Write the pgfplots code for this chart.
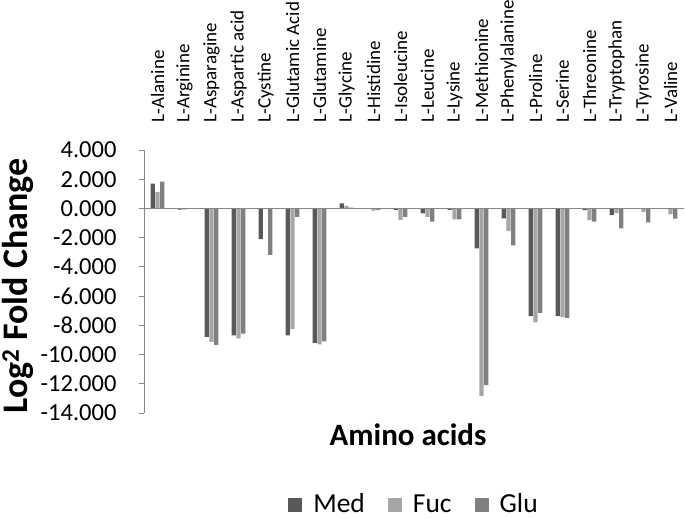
\documentclass[border=0pt]{standalone}
\usepackage{fontspec}
\setmainfont{Carlito}
\usepackage{pgfplots}
\pgfplotsset{compat=1.18}
\definecolor{cmed}{HTML}{595959}
\definecolor{cfuc}{HTML}{A6A6A6}
\definecolor{cglu}{HTML}{808080}
\definecolor{axgray}{HTML}{868686}
\begin{document}
\begin{tikzpicture}
\path[use as bounding box] (0,0) rectangle (685bp,519bp);
\begin{axis}[
  at={(144bp,106bp)}, anchor=south west,
  scale only axis, width=540bp, height=263bp,
  xmin=-0.5, xmax=19.5, ymin=-14, ymax=4,
  axis y line*=left, axis x line*=top,
  x axis line style={draw=none},
  y axis line style={draw=axgray, line width=0.9bp},
  xtick={0,...,19},
  xticklabels={L-Alanine,L-Arginine,L-Asparagine,L-Aspartic acid,L-Cystine,L-Glutamic Acid,L-Glutamine,L-Glycine,L-Histidine,L-Isoleucine,L-Leucine,L-Lysine,L-Methionine,L-Phenylalanine,L-Proline,L-Serine,L-Threonine,L-Tryptophan,L-Tyrosine,L-Valine},
  xticklabel style={rotate=90, anchor=west, font=\fontsize{19bp}{21bp}\selectfont},
  xticklabel shift=19bp,
  x tick style={draw=none},
  ytick={-14,-12,...,4},
  y tick style={draw=axgray, line width=0.9bp},
  tick align=outside, major tick length=5bp,
  yticklabel style={font=\fontsize{24.5bp}{26bp}\selectfont, /pgf/number format/.cd, fixed, fixed zerofill, precision=3, assume math mode=true},
  yticklabel shift=19bp,
  ybar=0.4bp, bar width=4.3bp,
  legend columns=3,
  legend style={draw=none, at={(axis description cs:0.5,-0.355)}, anchor=center, font=\fontsize{27.5bp}{29bp}\selectfont,
    nodes={text height=0.72em, text depth=0.05em},
    /tikz/every odd column/.append style={column sep=9bp},
    /tikz/every even column/.append style={column sep=21bp}},
  legend image code/.code={\fill[#1] (0bp,-3.5bp) rectangle (14bp,10.5bp);},
  clip=false,
]
\addplot[fill=cmed, draw=none] coordinates {
(0,1.69) (1,-0.08) (2,-8.79) (3,-8.68) (4,-2.10) (5,-8.68) (6,-9.20) (7,0.34) (8,-0.01) (9,-0.10)
(10,-0.34) (11,-0.10) (12,-2.74) (13,-0.68) (14,-7.37) (15,-7.37) (16,-0.12) (17,-0.46) (18,-0.02) (19,-0.03)};
\addplot[fill=cfuc, draw=none] coordinates {
(0,1.14) (1,-0.08) (2,-9.13) (3,-8.90) (4,-0.02) (5,-8.24) (6,-9.30) (7,0.18) (8,-0.15) (9,-0.80)
(10,-0.57) (11,-0.75) (12,-12.85) (13,-1.55) (14,-7.79) (15,-7.44) (16,-0.80) (17,-0.32) (18,-0.23) (19,-0.40)};
\addplot[fill=cglu, draw=none] coordinates {
(0,1.83) (1,-0.01) (2,-9.34) (3,-8.56) (4,-3.17) (5,-0.57) (6,-9.10) (7,0.05) (8,-0.10) (9,-0.57)
(10,-0.91) (11,-0.75) (12,-12.10) (13,-2.53) (14,-7.15) (15,-7.49) (16,-0.90) (17,-1.37) (18,-0.96) (19,-0.70)};
\legend{Med,Fuc,Glu}
\draw[axgray, line width=0.9bp] (axis cs:-0.5,0) -- (axis cs:19.5,0);
\node[font=\bfseries\fontsize{31bp}{33bp}\selectfont] at (axis description cs:0.489,-0.084) {Amino acids};
\node[font=\bfseries\fontsize{36bp}{38bp}\selectfont, rotate=90] at (axis description cs:-0.233,0.483) {Log\textsuperscript{2} Fold Change};
\end{axis}
\end{tikzpicture}
\end{document}
